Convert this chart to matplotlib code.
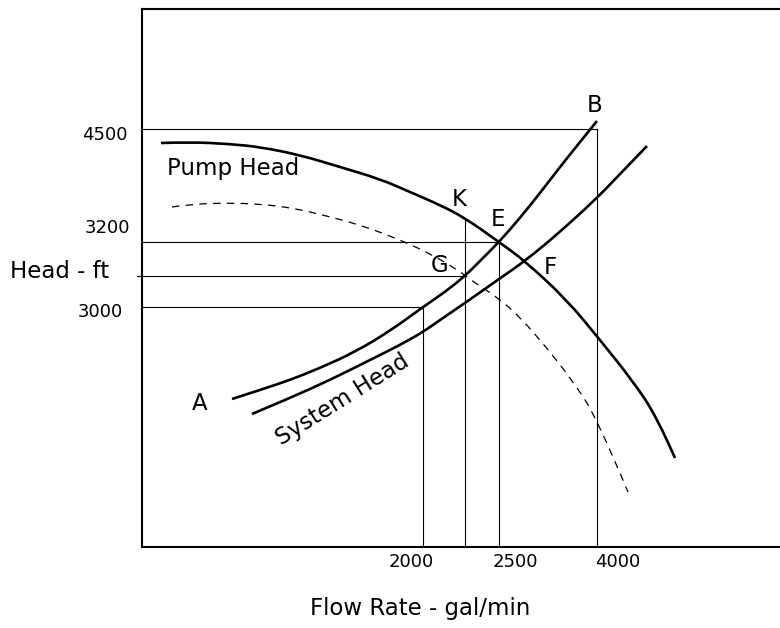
import matplotlib.pyplot as plt
from matplotlib.path import Path
from matplotlib.patches import PathPatch

# schematic units: x = flow position, y = head position (both arbitrary)
pump_x = [19, 48, 88, 118, 158, 198, 238, 268, 298, 323, 357, 383, 425, 458, 490, 515, 533]
pump_y = [404, 405, 403, 400, 392, 380, 368, 355, 342, 329, 305, 286, 247, 207, 167, 130, 89]

sys1_x = [90, 118, 148, 178, 213, 248, 281, 303, 323, 340, 357, 378, 398, 418, 438, 455]
sys1_y = [148, 157, 167, 179, 195, 216, 240, 255, 271, 288, 305, 329, 354, 380, 405, 426]

sys2_x = [110, 148, 188, 228, 258, 281, 298, 323, 357, 383, 418, 455, 478, 505]
sys2_y = [133, 149, 167, 187, 202, 215, 227, 244, 268, 286, 315, 349, 373, 401]

dash_x = [30, 51, 85, 118, 151, 185, 218, 251, 285, 316, 333, 355, 378, 404, 430, 455, 486]
dash_y = [340, 343, 344, 343, 339, 331, 322, 310, 295, 277, 264, 250, 230, 200, 167, 129, 55]

# operating points: flow position, head level, and where the vertical stops
flow_marks = [281, 323, 357, 455]
head_levels = [240, 271, 305, 418]
vert_tops = [240, 329, 305, 418]
flow_labels = ["2000", "", "2500", "4000"]
flow_label_x = [269, 0, 373, 476]
head_labels = ["3000", "", "3200", "4500"]
head_label_pos = [(-19, 235), None, (-12, 319), (-14, 412)]

point_names = ["K", "E", "G", "F", "B", "A"]
point_pos = [(317, 348), (356, 328), (298, 281), (408, 280), (453, 441), (58, 144)]


def smooth_curve(ax, xs, ys, **kw):
    # quadratic bezier pieces between midpoints, points act as controls
    pts = list(zip(xs, ys))
    verts = [pts[0]]
    codes = [Path.MOVETO]
    for i in range(1, len(pts) - 1):
        mid = ((pts[i][0] + pts[i + 1][0]) / 2, (pts[i][1] + pts[i + 1][1]) / 2)
        if i == len(pts) - 2:
            mid = pts[-1]
        verts += [pts[i], mid]
        codes += [Path.CURVE3, Path.CURVE3]
    patch = PathPatch(Path(verts, codes), facecolor="none", edgecolor="black", **kw)
    ax.add_patch(patch)


fig = plt.figure(figsize=(7.8, 6.28), dpi=100)
ax = fig.add_axes([142 / 780, 81 / 628, 648 / 780, 538 / 628])
ax.set_xlim(0, 648)
ax.set_ylim(0, 538)
ax.set_xticks([])
ax.set_yticks([])
for s in ["left", "bottom", "top"]:
    ax.spines[s].set_linewidth(1.5)
ax.spines["right"].set_visible(False)

# guide lines
for i in range(len(flow_marks)):
    x0 = -5 if i == 1 else 0
    ax.plot([x0, flow_marks[i]], [head_levels[i], head_levels[i]], color="black", lw=0.8, clip_on=False)
    ax.plot([flow_marks[i], flow_marks[i]], [0, vert_tops[i]], color="black", lw=0.8)

smooth_curve(ax, pump_x, pump_y, lw=1.9, capstyle="butt")
smooth_curve(ax, sys1_x, sys1_y, lw=1.9, capstyle="butt")
smooth_curve(ax, sys2_x, sys2_y, lw=1.9, capstyle="butt")
smooth_curve(ax, dash_x, dash_y, lw=0.9, linestyle=(0, (6, 5)))

for name, (x, y) in zip(point_names, point_pos):
    ax.text(x, y, name, fontsize=16.5, ha="center", va="center")

ax.text(25, 379, "Pump Head", fontsize=16.5, ha="left", va="center")
ax.text(201, 147, "System Head", fontsize=16.5, ha="center", va="center",
        rotation=32, rotation_mode="anchor")

for lab, lx in zip(flow_labels, flow_label_x):
    if lab:
        ax.text(lx, -15, lab, fontsize=13, ha="center", va="center", clip_on=False)
for lab, pos in zip(head_labels, head_label_pos):
    if lab:
        ax.text(pos[0], pos[1], lab, fontsize=13, ha="right", va="center", clip_on=False)

ax.text(-132, 276, "Head - ft", fontsize=16.5, ha="left", va="center", clip_on=False)
ax.text(278, -61, "Flow Rate - gal/min", fontsize=16.5, ha="center", va="center", clip_on=False)

fig.savefig("out.png", dpi=100)
